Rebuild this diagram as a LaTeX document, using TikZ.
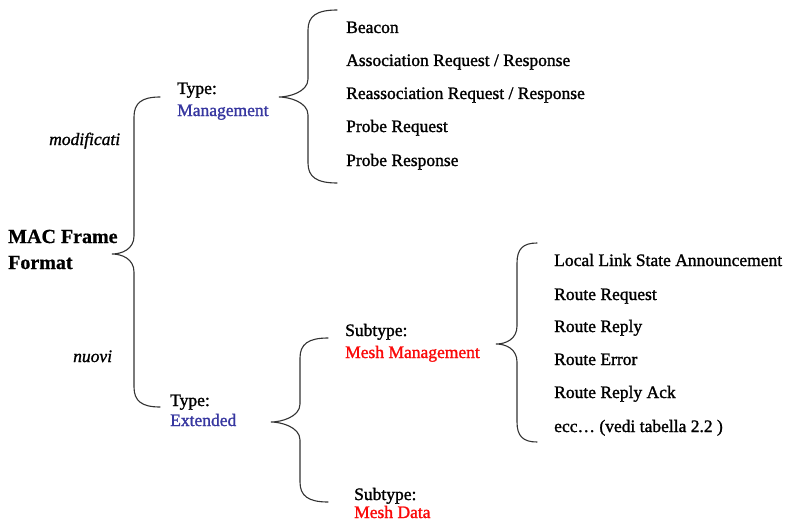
\documentclass[tikz,border=0pt]{standalone}
\usepackage{fontspec}
\setmainfont{Liberation Serif}
\newfontfamily\itemfont{Liberation Serif}[FakeBold=1.4]
\newfontfamily\itemitfont{Liberation Serif Italic}[FakeBold=1.2]
\newfontfamily\rootfont{Liberation Serif Bold}[FakeBold=0.8]
\definecolor{typeblue}{RGB}{55,55,160}
\definecolor{subred}{RGB}{250,10,10}
% curly brace: x of the ends, y top, x of the spine, x of the tip, y of the tip, y bottom
\newcommand\bracepath[6]{%
  \draw[bracestroke] (#1,#2) .. controls ({#3+0.3*(#1-#3)},#2) and (#3,{#2+6}) .. (#3,{#2+20})
    -- (#3,{#5-18}) .. controls (#3,{#5-5}) and ({#4+10},#5) .. (#4,#5)
    .. controls ({#4+10},#5) and (#3,{#5+5}) .. (#3,{#5+18})
    -- (#3,{#6-20}) .. controls (#3,{#6-6}) and ({#3+0.3*(#1-#3)},#6) .. (#1,#6);}
\begin{document}
\begin{tikzpicture}[x=1pt,y=-1pt,
  bracestroke/.style={draw=black!80, line width=1.1pt, line cap=round},
  lbl/.style={anchor=base west, inner sep=0pt, align=left,
    font=\itemfont\fontsize{17.5}{22}\selectfont},
  root/.style={anchor=base west, inner sep=0pt, align=left,
    font=\rootfont\fontsize{20}{26}\selectfont},
  edge/.style={anchor=base west, inner sep=0pt,
    font=\itemitfont\fontsize{17.5}{22}\selectfont}]
\useasboundingbox (0,0) rectangle (791,524);

% root (multi-line nodes sit on the baseline of their last line)
\node[root] (mac) at (8,269) {MAC Frame\\Format};
\node[edge] (mod) at (49,145) {modificati};
\node[edge] (nuo) at (73,362) {nuovi};
\bracepath{160}{97}{134}{112}{254}{407}

% Type: Management
\node[lbl] (tmgmt) at (177,116) {Type:\\\textcolor{typeblue}{Management}};
\bracepath{337}{10}{308}{279}{97}{183}
\node[lbl] (b1) at (346,33)  {Beacon};
\node[lbl] (b2) at (346,66)  {Association Request / Response};
\node[lbl] (b3) at (346,99)  {Reassociation Request / Response};
\node[lbl] (b4) at (346,132) {Probe Request};
\node[lbl] (b5) at (346,166) {Probe Response};

% Type: Extended
\node[lbl] (text) at (170,426) {Type:\\[-2pt]\textcolor{typeblue}{Extended}};
\bracepath{328}{338}{300}{271}{422}{502}

% Subtype: Mesh Management
\node[lbl] (smm) at (345,358) {Subtype:\\\textcolor{subred}{Mesh Management}};
\bracepath{537}{243}{517}{496}{344}{442}
\node[lbl] (r1) at (554,266) {Local Link State Announcement};
\node[lbl] (r2) at (554,300) {Route Request};
\node[lbl] (r3) at (554,332) {Route Reply};
\node[lbl] (r4) at (554,365) {Route Error};
\node[lbl] (r5) at (554,398) {Route Reply Ack};
\node[lbl] (r6) at (554,432) {ecc\ldots\ (vedi tabella 2.2 )};

% Subtype: Mesh Data
\node[lbl] (smd) at (354,518) {Subtype:\\[-4pt]\textcolor{subred}{Mesh Data}};
\end{tikzpicture}
\end{document}
